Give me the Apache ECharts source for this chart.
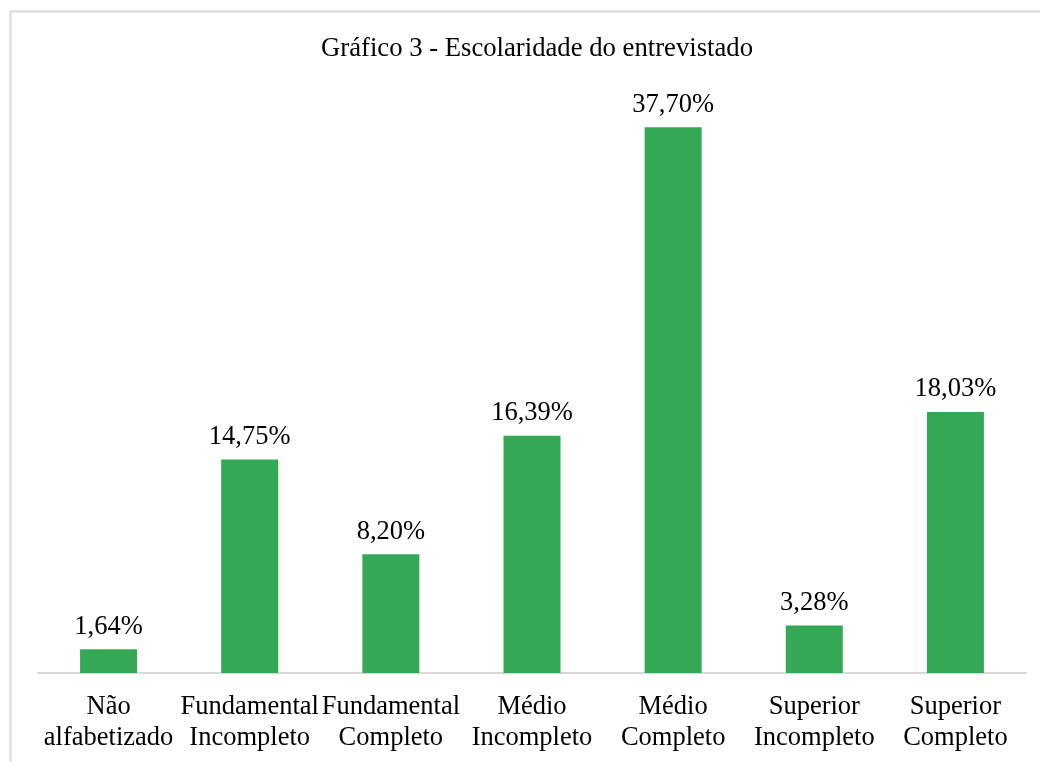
<!DOCTYPE html>
<html>
<head>
<meta charset="utf-8">
<script src="https://cdn.jsdelivr.net/npm/echarts@6/dist/echarts.min.js"></script>
<style>
  html, body { margin: 0; padding: 0; background: #fff; }
  #chart { width: 1040px; height: 762px; }
</style>
</head>
<body>
<div id="chart"></div>
<script>
(function () {
    'use strict';

    var titleText = 'Gráfico 3 - Escolaridade do entrevistado';
    var categories = [
        'Não\nalfabetizado',
        'Fundamental\nIncompleto',
        'Fundamental\nCompleto',
        'Médio\nIncompleto',
        'Médio\nCompleto',
        'Superior\nIncompleto',
        'Superior\nCompleto'
    ];
    var percents = [1.64, 14.75, 8.20, 16.39, 37.70, 3.28, 18.03];

    var serif = '"Liberation Serif", "Times New Roman", serif';
    var chart = echarts.init(document.getElementById('chart'));

    var options = {
        animation: false,
        backgroundColor: '#fff',
        title: {
            text: titleText,
            left: 532,
            top: 30,
            textAlign: 'center',
            textStyle: { fontFamily: serif, fontSize: 26.7, fontWeight: 'normal', color: '#000' }
        },
        graphic: [{
            type: 'rect',
            left: 8, top: 9,
            shape: { width: 1050, height: 780 },
            style: { fill: 'none', stroke: '#d9d9d9', lineWidth: 2 },
            silent: true
        }],
        grid: { left: 38, right: 14, top: 94, bottom: 89 },
        xAxis: {
            type: 'category',
            data: categories,
            axisLine: { lineStyle: { color: '#d9d9d9', width: 2 } },
            axisTick: { show: false },
            axisLabel: {
                interval: 0,
                margin: 19,
                fontFamily: serif,
                fontSize: 26.5,
                lineHeight: 31,
                color: '#000'
            }
        },
        yAxis: {
            type: 'value',
            min: 0,
            max: 40,
            show: false,
            splitLine: { show: false }
        },
        series: [{
            type: 'bar',
            data: percents,
            barWidth: 57,
            itemStyle: { color: '#35a856' },
            label: {
                show: true,
                position: 'top',
                distance: 9,
                fontFamily: serif,
                fontSize: 26.5,
                color: '#000',
                formatter: function (p) {
                    return p.value.toFixed(2).replace('.', ',') + '%';
                }
            }
        }]
    };

    chart.setOption(options);
})();
</script>
</body>
</html>
